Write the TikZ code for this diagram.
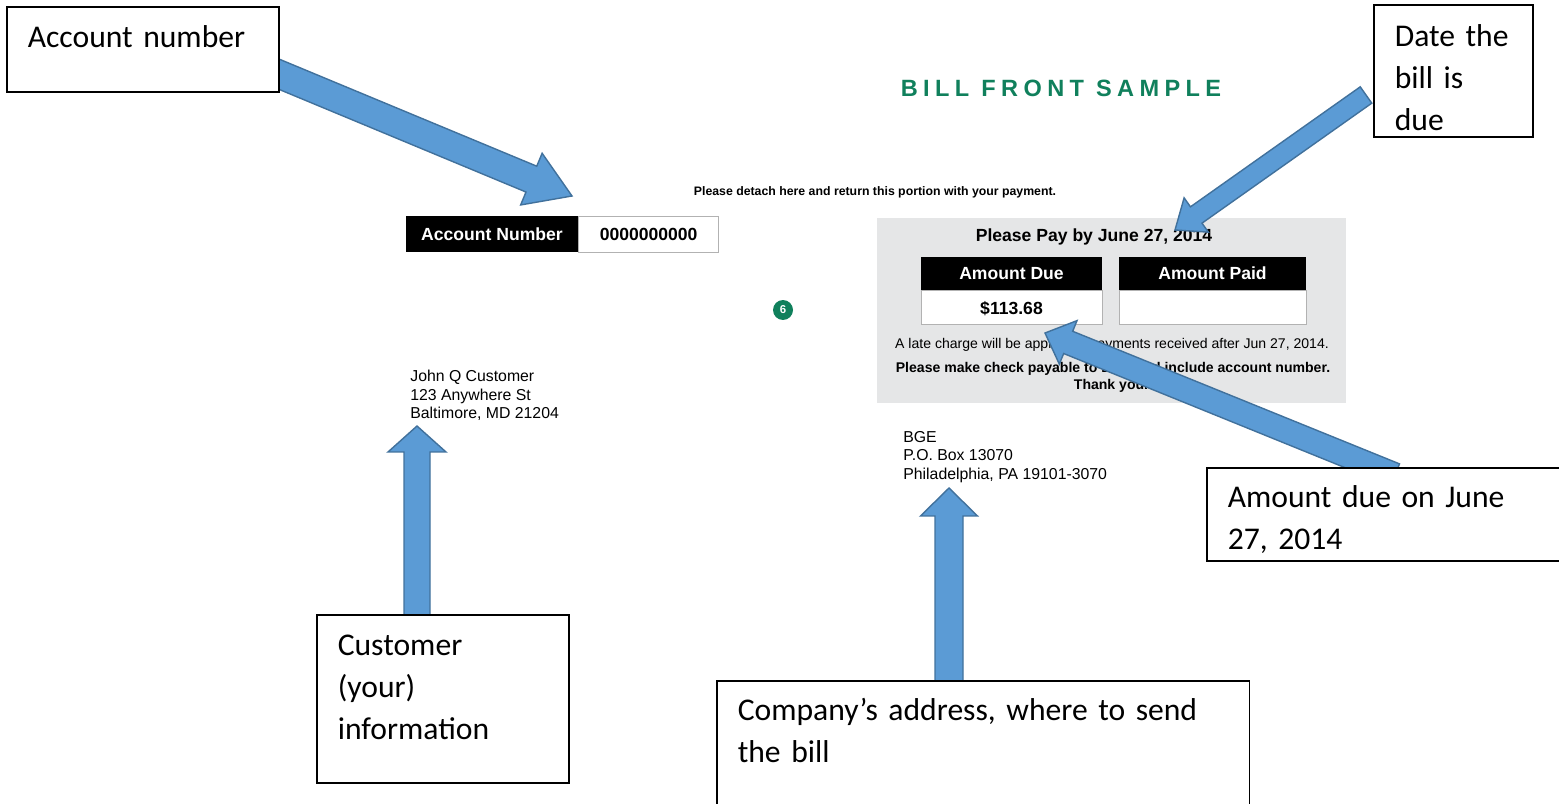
\documentclass[tikz,border=0pt]{standalone}
\usepackage{fontspec}
\setmainfont{Carlito}
\newfontfamily\billfont{Liberation Sans}
\newfontfamily\spacedfont[LetterSpace=23]{Liberation Sans}
\usetikzlibrary{calc,positioning}

\definecolor{billgreen}{RGB}{16,128,92}
\definecolor{panelgray}{RGB}{229,230,231}
\definecolor{arrowfill}{RGB}{91,155,213}
\definecolor{arrowline}{RGB}{65,113,156}

\tikzset{
  note/.style={draw, line width=0.9pt, fill=white, anchor=north west, inner sep=0pt,
    inner xsep=0.42cm, align=left, font=\fontsize{18}{23.8}\selectfont},
  billhead/.style={fill=black, text=white, inner sep=0pt, text height=7.2pt, text depth=0pt,
    font=\billfont\bfseries\fontsize{10}{12}\selectfont},
  billcell/.style={draw=black!30, fill=white, inner sep=0pt, text height=7.2pt, text depth=0pt,
    font=\billfont\bfseries\fontsize{10}{12}\selectfont},
  fine/.style={inner sep=0pt, anchor=base, font=\billfont\fontsize{8}{9.6}\selectfont},
  finebold/.style={fine, font=\billfont\bfseries\fontsize{8}{9.6}\selectfont},
  address/.style={inner sep=0pt, anchor=north west, align=left,
    font=\billfont\fontsize{9}{10.5}\selectfont},
  blockarrow/.style={fill=arrowfill, draw=arrowline, line width=0.8pt, line join=miter}
}

% block arrow: tail, tip, shaft half width, head half width, head length
\newcommand\bluearrow[5]{%
  \coordinate (ba-m) at ($(#2)!#5!(#1)$);
  \filldraw[blockarrow] ($(#1)!#3!90:(#2)$) -- ($(ba-m)!#3!90:(#2)$) -- ($(ba-m)!#4!90:(#2)$)
    -- (#2) -- ($(ba-m)!#4!-90:(#2)$) -- ($(ba-m)!#3!-90:(#2)$) -- ($(#1)!#3!-90:(#2)$) -- cycle;
}

\begin{document}
\begin{tikzpicture}[x=0.02cm, y=-0.02cm]
	\useasboundingbox (0,0) rectangle (1559,804);
	% The bill itself
	\node[inner sep=0pt, anchor=base, text=billgreen, font=\spacedfont\bfseries\fontsize{13.4}{16}\selectfont] (title) at (1061,96.5) {BILL FRONT SAMPLE};
	\node[finebold, font=\billfont\bfseries\fontsize{7}{8}\selectfont] (detach) at (875,195.5) {Please detach here and return this portion with your payment.};
	\node[billhead, minimum width=3.44cm, minimum height=0.72cm] (acctlbl) at (492,234) {Account Number};
	\node[billcell, minimum width=2.8cm, minimum height=0.72cm, right=0pt of acctlbl] (acctnum) {0000000000};
	\node[circle, fill=billgreen, text=white, inner sep=0pt, minimum size=0.4cm, font=\billfont\bfseries\fontsize{6.5}{6.5}\selectfont] (six) at (783,310) {6};
	\node[address] (custaddr) at (410,370) {John Q Customer\\123 Anywhere St\\Baltimore, MD 21204};
	% payment panel
	\fill[panelgray] (877,218) rectangle (1346,403);
	\node[inner sep=0pt, anchor=base, font=\billfont\bfseries\fontsize{10}{12}\selectfont] (paydate) at (1094,242) {Please Pay by June 27, 2014};
	\node[billhead, minimum width=3.62cm, minimum height=0.66cm] (duehdr) at (1011.5,273.5) {Amount Due};
	\node[billcell, minimum width=3.62cm, minimum height=0.68cm, below=0pt of duehdr] (dueval) {\$113.68};
	\node[billhead, minimum width=3.74cm, minimum height=0.66cm] (paidhdr) at (1212.5,273.5) {Amount Paid};
	\node[billcell, minimum width=3.74cm, minimum height=0.68cm, below=0pt of paidhdr] (paidval) {};
	\node[fine] (late) at (1112,348) {A late charge will be applied to payments received after Jun 27, 2014.};
	\node[finebold] (payable) at (1113,372) {Please make check payable to BGE and include account number.};
	\node[finebold] (thanks) at (1111,389.5) {Thank you.};
	\node[address] (bgeaddr) at (903,431) {BGE\\P.O. Box 13070\\Philadelphia, PA 19101-3070};

	% The arrows, tails hidden under the notes
	\coordinate (acct-tail) at (240,58);   \coordinate (acct-tip) at (572,196);
	\coordinate (date-tail) at (1366,95);  \coordinate (date-tip) at (1175,230);
	\coordinate (amt-tail) at (1395,475);  \coordinate (amt-tip) at (1045,333);
	\coordinate (cust-tail) at (417,640);  \coordinate (cust-tip) at (417,426);
	\coordinate (comp-tail) at (949,700);  \coordinate (comp-tip) at (949,488);
	\foreach \from/\to/\sw/\hw/\hl in {acct-tail/acct-tip/0.28cm/0.56cm/0.88cm,
			date-tail/date-tip/0.2cm/0.42cm/0.52cm, amt-tail/amt-tip/0.24cm/0.47cm/0.5cm,
			cust-tail/cust-tip/0.26cm/0.58cm/0.52cm, comp-tail/comp-tip/0.28cm/0.57cm/0.56cm}
		{\bluearrow{\from}{\to}{\sw}{\hw}{\hl}}

	% The notes
	\node[note, text width=4.6cm, minimum height=1.7cm, text height=0.82cm, text depth=0.88cm] (acctnote) at (6,6) {Account number};
	\node[note, text width=2.34cm, minimum height=2.64cm, text height=0.84cm, text depth=1.8cm] (datenote) at (1373,4) {Date the\\bill is\\due};
	\node[note, text width=6.64cm, minimum height=1.86cm, text height=0.8cm, text depth=1.06cm] (amtnote) at (1206,467) {Amount due on June\\27, 2014};
	\node[note, text width=4.2cm, minimum height=3.36cm, text height=0.82cm, text depth=2.54cm] (custnote) at (316,614) {Customer\\(your)\\information};
	\node[note, text width=9.82cm, minimum height=2.8cm, text height=0.8cm, text depth=2cm] (compnote) at (716,680) {Company’s address, where to send\\the bill};
\end{tikzpicture}
\end{document}
